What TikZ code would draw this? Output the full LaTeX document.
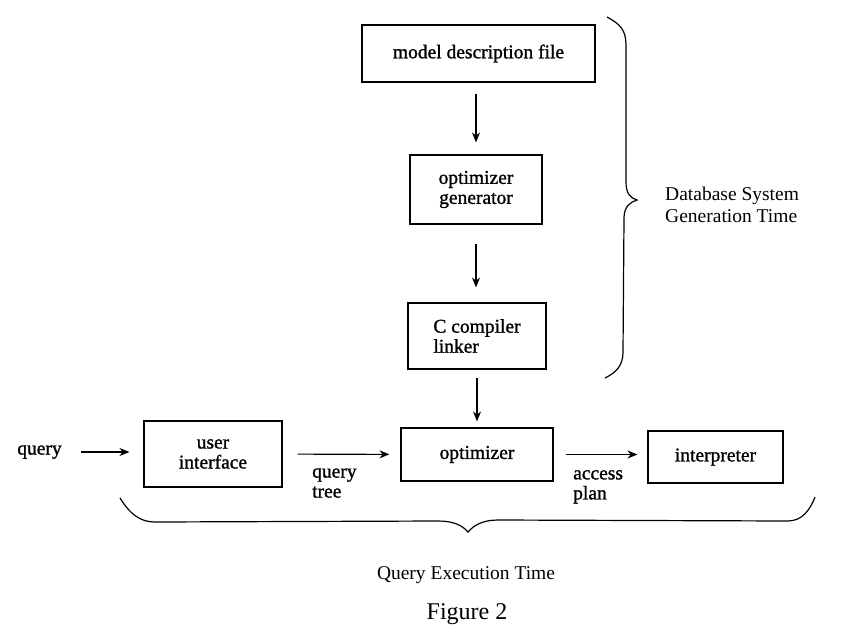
\documentclass[tikz,border=0pt]{standalone}
\usepackage{fontspec}
\setmainfont{Liberation Serif}
\newfontfamily\heavyfont{Liberation Serif}[FakeBold=1.2]
\usetikzlibrary{arrows.meta}
\tikzset{
    x=1pt, y=-1pt, % one unit is one pixel of the page, y runs downwards
    }

\begin{document}
\begin{tikzpicture}[
box/.style={draw=black, line width=1.1pt, align=center, font=\heavyfont\fontsize{19.5}{20}\selectfont},
lbl/.style={align=left, inner sep=0pt, font=\fontsize{19.5}{20}\selectfont},
heavy/.style={font=\heavyfont\fontsize{19.5}{20}\selectfont},
flow/.style={line width=1.1pt, -{Stealth[length=10pt, width=8pt]}},
curly/.style={line width=1.2pt},
]
\useasboundingbox (0,0) rectangle (845,643);

\node[box, minimum width=233, minimum height=57] (mdf) at (478.5,53.5) {model description file};
\node[box, minimum width=132, minimum height=69] (gen) at (476,189.5) {optimizer\\generator};
\node[box, minimum width=138, minimum height=66, align=left] (cc) at (477,336) {C compiler\\linker};
\node[box, minimum width=152, minimum height=53] (opt) at (477,454.5) {optimizer};
\node[box, minimum width=135, minimum height=52] (interp) at (715.5,457) {interpreter};
\node[box, minimum width=138, minimum height=66] (ui) at (213,454) {user\\interface};
\node[lbl, heavy] (query) at (39.5,452) {query};

\node[lbl, heavy, anchor=north west] (qtree) at (312,468) {query\\tree};
\node[lbl, heavy, anchor=north west] (aplan) at (573,470) {access\\plan};
\node[lbl, anchor=west, font=\fontsize{19.5}{22}\selectfont] (dbgen) at (665,204.5) {Database System\\Generation Time};
\node[lbl] (qexec) at (466,575) {Query Execution Time};
\node[lbl, font=\fontsize{24}{26}\selectfont] (fig) at (467,614) {Figure 2};

\draw[flow, shorten <=11, shorten >=12] (mdf.south -| gen.north) -- (gen.north);
\draw[flow, shorten <=19, shorten >=15] (gen.south) -- (cc.north -| gen.south);
\draw[flow, shorten <=8, shorten >=6] (cc.south) -- (opt.north -| cc.south);
\draw[flow, shorten <=19, shorten >=14] (query.east) -- (ui.west |- query.east);
\draw[flow, shorten <=15, shorten >=11] (ui) -- (opt);
\draw[flow, shorten <=12, shorten >=10] (opt.east) -- (interp.west |- opt.east);

% braces
\draw[curly] (607,17) .. controls (620,24) and (626,30) .. (626,45) -- (626,182)
  .. controls (626,193) and (630,198) .. (637,200)
  .. controls (630,202) and (624,207) .. (624,218) -- (623,352)
  .. controls (623,365) and (617,372) .. (605,378);
\draw[curly] (120,498) .. controls (130,514) and (140,522) .. (155,522) -- (438,521)
  .. controls (453,521) and (462,525) .. (468,532)
  .. controls (474,525) and (483,520) .. (498,520) -- (788,521)
  .. controls (802,521) and (810,510) .. (815,497);

\end{tikzpicture}
\end{document}
